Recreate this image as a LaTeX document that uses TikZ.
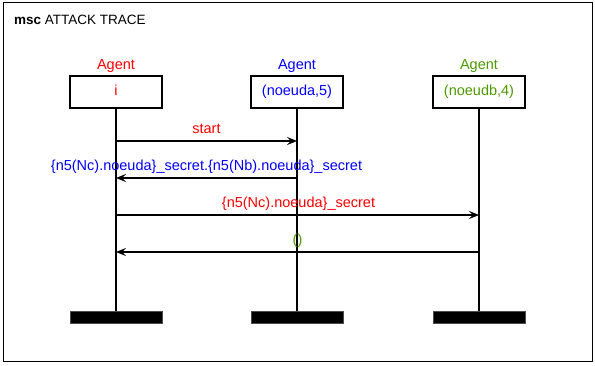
\documentclass[tikz,border=0pt]{standalone}
\usepackage{fontspec}
\setmainfont{Liberation Sans}
\usetikzlibrary{arrows.meta}
\definecolor{agentred}{RGB}{255,0,0}
\definecolor{agentblue}{RGB}{0,0,255}
\definecolor{agentgreen}{RGB}{76,153,0}
\begin{document}
\begin{tikzpicture}[x=1pt,y=-1pt,
  font=\fontsize{14.5}{17}\selectfont,
  frame/.style={line width=1pt},
  inst/.style={draw, line width=1.1pt, minimum width=92pt, minimum height=32pt,
    inner sep=0pt, text height=10pt, text depth=3pt},
  endbar/.style={fill=black, draw=black!70, line width=0.6pt,
    minimum width=92pt, minimum height=12pt, inner sep=0pt},
  kind/.style={anchor=base, inner sep=0pt},
  lifeline/.style={line width=1.1pt},
  msg/.style={line width=1.1pt, -{Stealth[length=10pt,width=8pt,inset=4pt]}},
  lbl/.style={anchor=base, inner sep=0pt},
]
\useasboundingbox (0,0) rectangle (595,366);

% chart frame and its title
\draw[frame] (3,3) rectangle (592,362);
\node[anchor=base west, inner sep=0pt, font=\fontsize{13.5}{16}\selectfont] (title) at (14,25)
  {\textbf{msc} ATTACK TRACE};

% instance heads
\node[kind, agentred]   (kI) at (116,70) {Agent};
\node[kind, agentblue]  (kA) at (297,70) {Agent};
\node[kind, agentgreen] (kB) at (479,70) {Agent};
\node[inst, text=agentred]   (hI) at (116,92) {i};
\node[inst, text=agentblue]  (hA) at (297,92) {(noeuda,5)};
\node[inst, text=agentgreen] (hB) at (479,92) {(noeudb,4)};

% instance ends
\node[endbar] (eI) at (116,317) {};
\node[endbar] (eA) at (297,317) {};
\node[endbar] (eB) at (479,317) {};

% lifelines
\draw[lifeline] (hI.south) -- (eI.north);
\draw[lifeline] (hA.south) -- (eA.north);
\draw[lifeline] (hB.south) -- (eB.north);

% message anchors on the lifelines
\coordinate (i1) at (116,141); \coordinate (a1) at (297,141);
\coordinate (i2) at (116,178); \coordinate (a2) at (297,178);
\coordinate (i3) at (116,215); \coordinate (b3) at (479,215);
\coordinate (i4) at (116,252); \coordinate (b4) at (479,252);

% messages
\draw[msg] (i1) -- (a1);
\node[lbl, agentred] (l1) at (206.5,134) {start};

\draw[msg] (a2) -- (i2);
\node[lbl, agentblue] (l2) at (206.5,171)
  {\{n5(Nc).noeuda\}\_secret.\{n5(Nb).noeuda\}\_secret};

\draw[msg] (i3) -- (b3);
\node[lbl, agentred] (l3) at (298.5,208) {\{n5(Nc).noeuda\}\_secret};

\draw[msg] (b4) -- (i4);
\node[lbl, agentgreen] (l4) at (297.5,245) {()};
\end{tikzpicture}
\end{document}
